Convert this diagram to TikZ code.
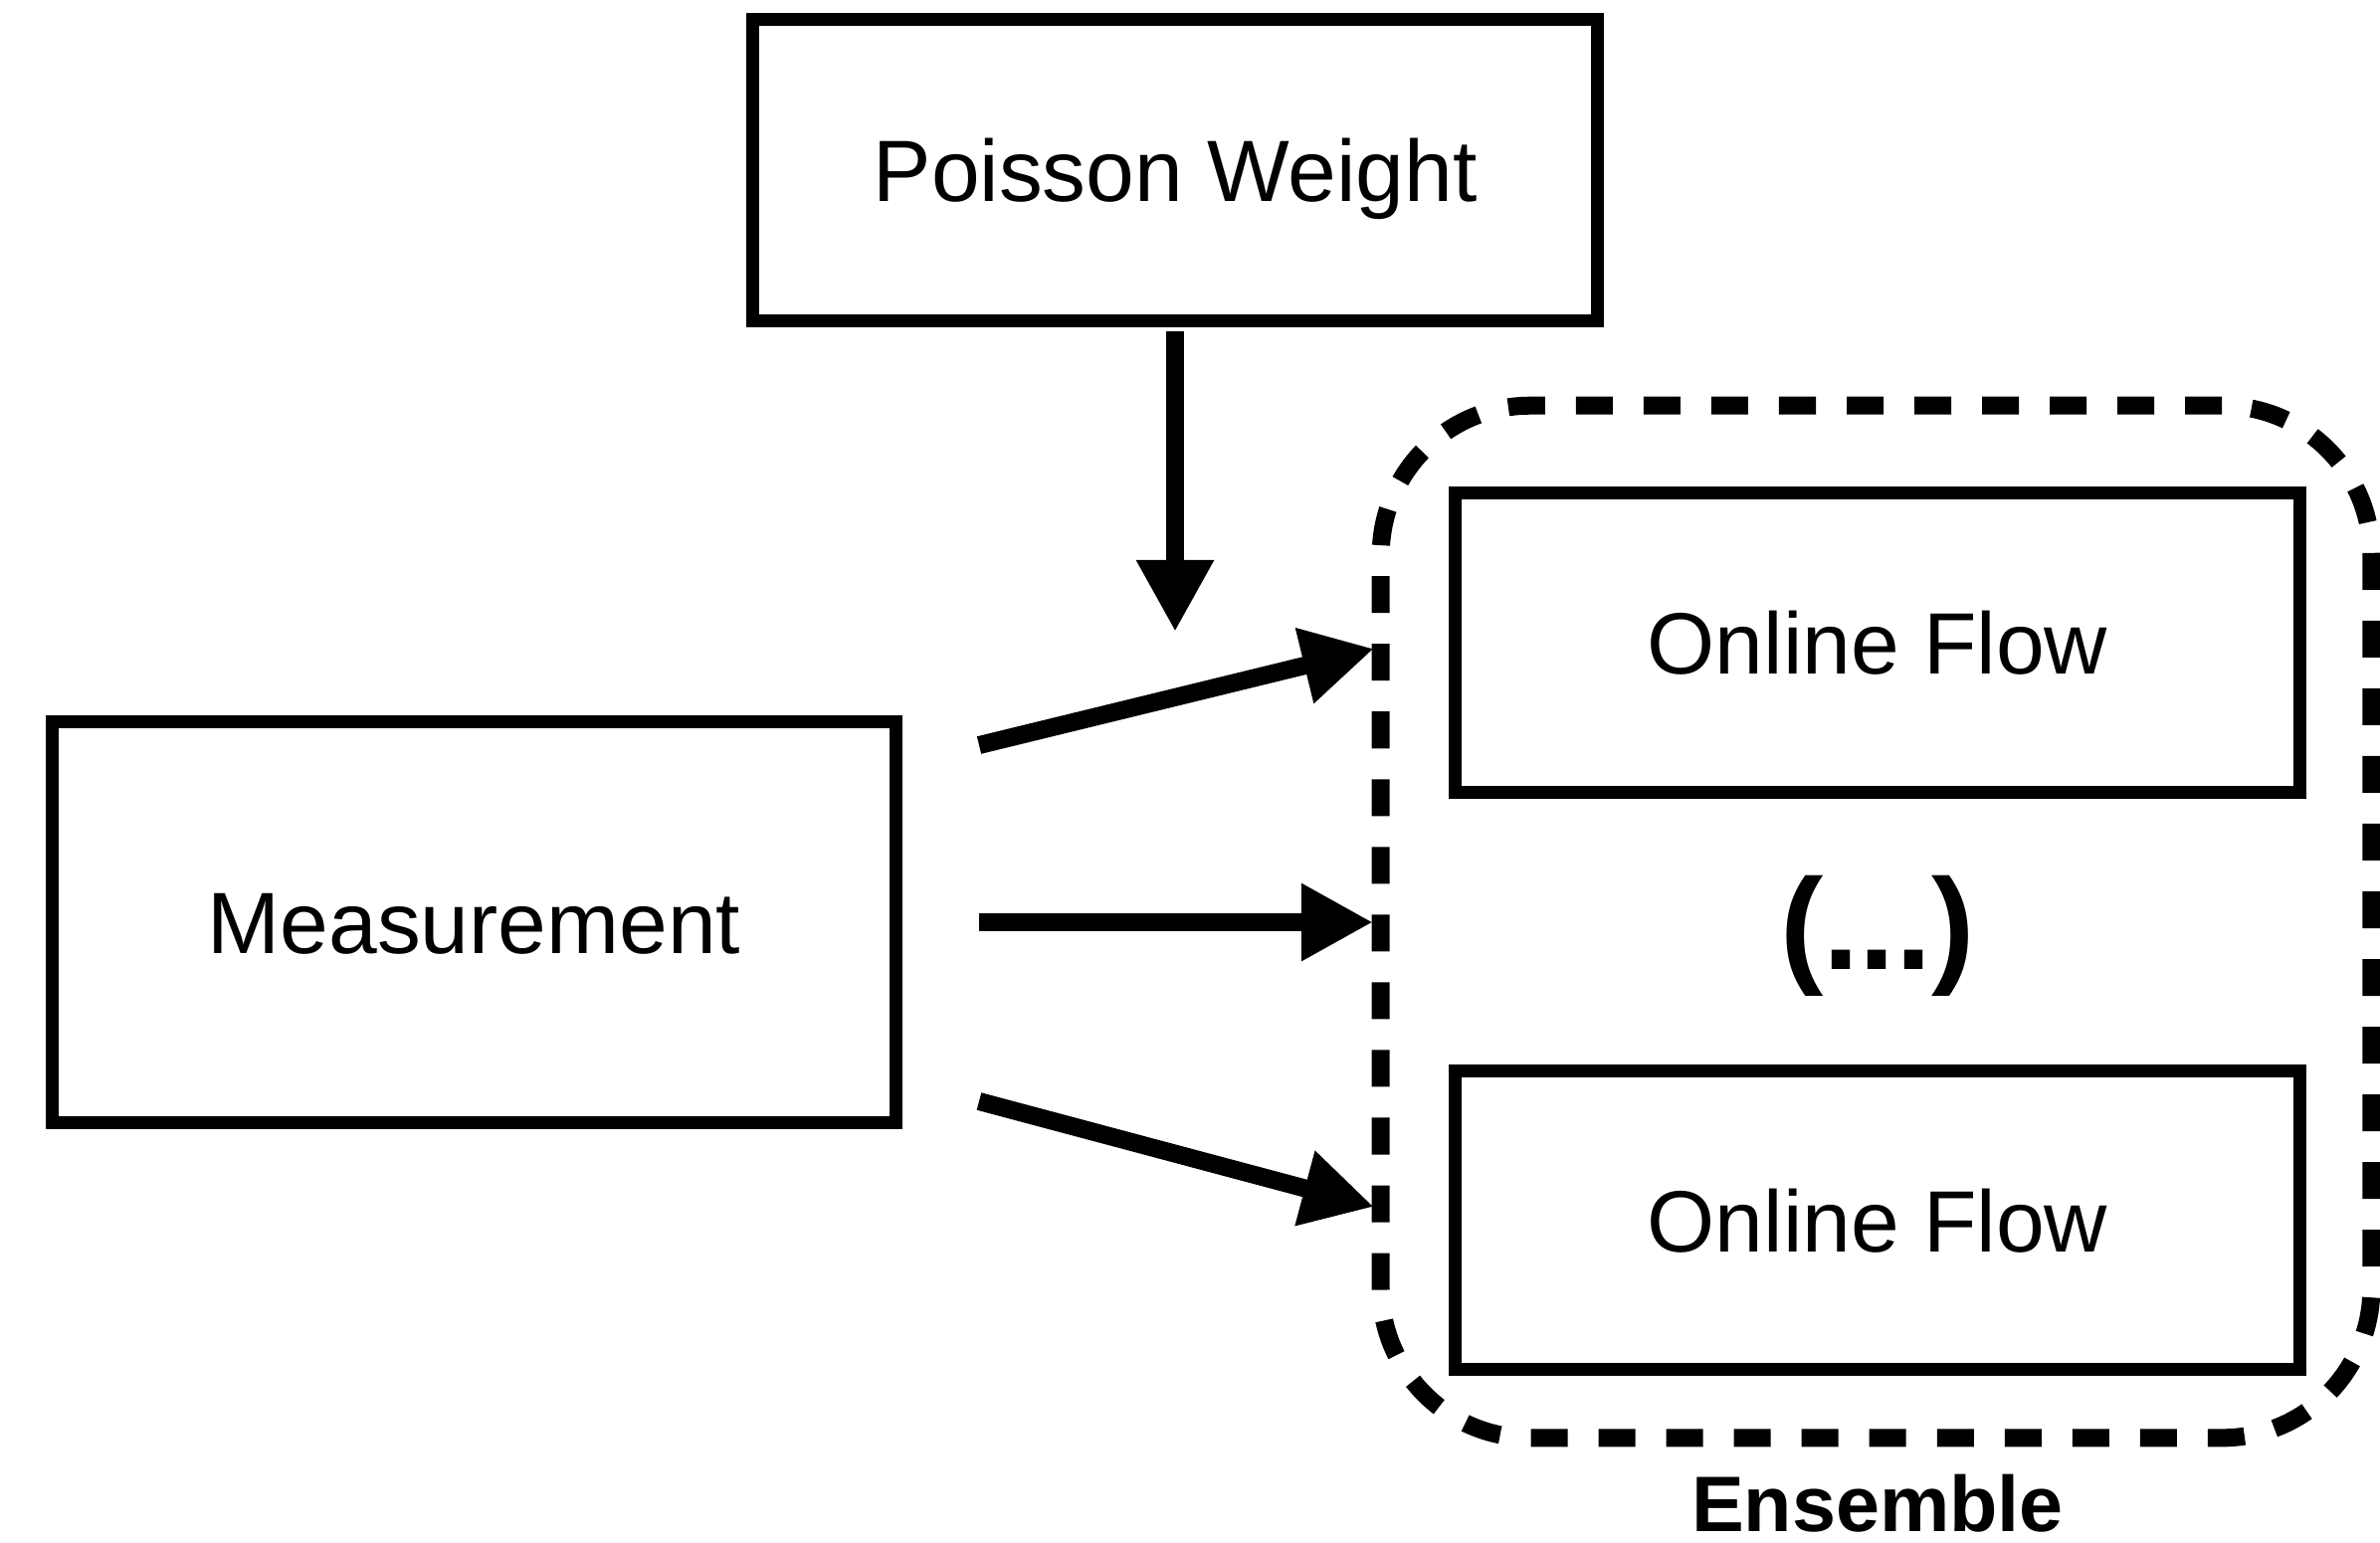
\documentclass[tikz,border=0pt]{standalone}
\usepackage{fontspec}
\setmainfont{Liberation Sans}
\usetikzlibrary{arrows.meta}
\begin{document}
\begin{tikzpicture}[x=0.01cm,y=-0.01cm,
  block/.style={draw,line width=0.13cm,minimum width=8.48cm,inner sep=0pt,
    text height=0.63cm,text depth=0pt,
    font=\fontsize{24.9pt}{30pt}\selectfont},
  group/.style={draw,line width=0.18cm,dash pattern=on 0.37cm off 0.31cm,
    rounded corners=1.5cm,minimum width=9.95cm,minimum height=10.37cm,inner sep=0pt},
  arr/.style={line width=0.18cm,-{Triangle[length=0.72cm,width=0.73cm]}}]
  \useasboundingbox (0,0) rectangle (2392,1550);

  % blocks
  \node[block,minimum height=3.02cm] (pw) at (1181,171) {Poisson Weight};
  \node[block,minimum width=8.47cm,minimum height=4.02cm] (meas) at (476.5,927) {Measurement};
  \node[block,minimum height=3.00cm] (of1) at (1887,646) {Online Flow};
  \node[block,minimum height=2.99cm] (of2) at (1887,1226.5) {Online Flow};
  \node[font=\bfseries\fontsize{37pt}{44pt}\selectfont] (dots) at (1887,941) {(...)};

  % dashed ensemble frame and its label
  \node[group] (ens) at (1885.5,926.5) {};
  \node[font=\bfseries\fontsize{22.5pt}{27pt}\selectfont,inner sep=0pt,
    text height=0.57cm,text depth=0pt] (enslabel) at (1887,1511) {Ensemble};

  % arrow ends
  \coordinate (vt) at (1181,635);
  \coordinate (s1) at (984,749);
  \coordinate (s2) at (984,927);
  \coordinate (s3) at (984,1107);
  \coordinate (t1) at (1381,652);
  \coordinate (t2) at (1380,927);
  \coordinate (t3) at (1381,1213);

  % connectors
  \draw[arr,shorten <=0.04cm] (pw) -- (vt);
  \draw[arr] (s1) -- (t1);
  \draw[arr] (s2) -- (t2);
  \draw[arr] (s3) -- (t3);
\end{tikzpicture}
\end{document}
